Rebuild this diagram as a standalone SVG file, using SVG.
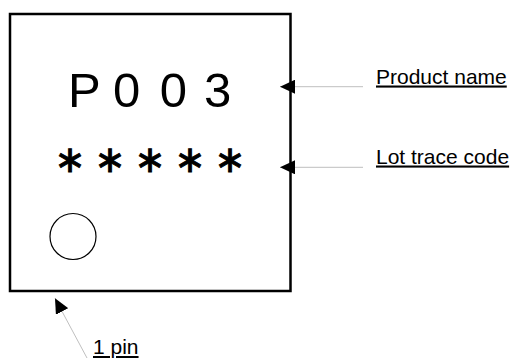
<svg xmlns="http://www.w3.org/2000/svg" width="513" height="358" viewBox="0 0 513 358">
<style>
.lbl{font-family:"Liberation Sans",Arial,sans-serif;font-size:21px;fill:#000;text-decoration:underline}
.conn{stroke:#bfbfbf;stroke-width:1;fill:none;marker-end:url(#ah)}
</style>
<defs>
<marker id="ah" markerUnits="userSpaceOnUse" viewBox="0 0 15 14" markerWidth="15" markerHeight="14" refX="15" refY="7" orient="auto">
<path d="M0,0 L15,7 L0,14 Z" fill="#000"/>
</marker>
</defs>
<rect width="513" height="358" fill="#fff"/>
<g id="chip">
<rect x="10" y="14" width="280.5" height="277" fill="#fff" stroke="#000" stroke-width="2.5"/>
<text x="68 113 159.7 204" y="106.7" font-family="Liberation Sans, Arial, sans-serif" font-size="49">P003</text>
<text x="70 110 150 190 230" y="172" text-anchor="middle" font-family="DejaVu Sans, sans-serif" font-size="37" stroke="#000" stroke-width="0.9">∗∗∗∗∗</text>
<circle cx="73" cy="236.5" r="23" fill="none" stroke="#000" stroke-width="1.2"/>
</g>
<g id="connectors">
<line class="conn" x1="363" y1="86.7" x2="280" y2="86.7"/>
<line class="conn" x1="363" y1="167.3" x2="280" y2="167.3"/>
<line class="conn" x1="87" y1="358" x2="55" y2="298.3"/>
</g>
<g id="label-product">
<text class="lbl" x="376" y="83.5">Product name</text>
</g>
<g id="label-lot">
<text class="lbl" x="376" y="163.5">Lot trace code</text>
</g>
<g id="label-pin">
<text class="lbl" x="93" y="354" font-size="20">1 pin</text>
</g>
</svg>
